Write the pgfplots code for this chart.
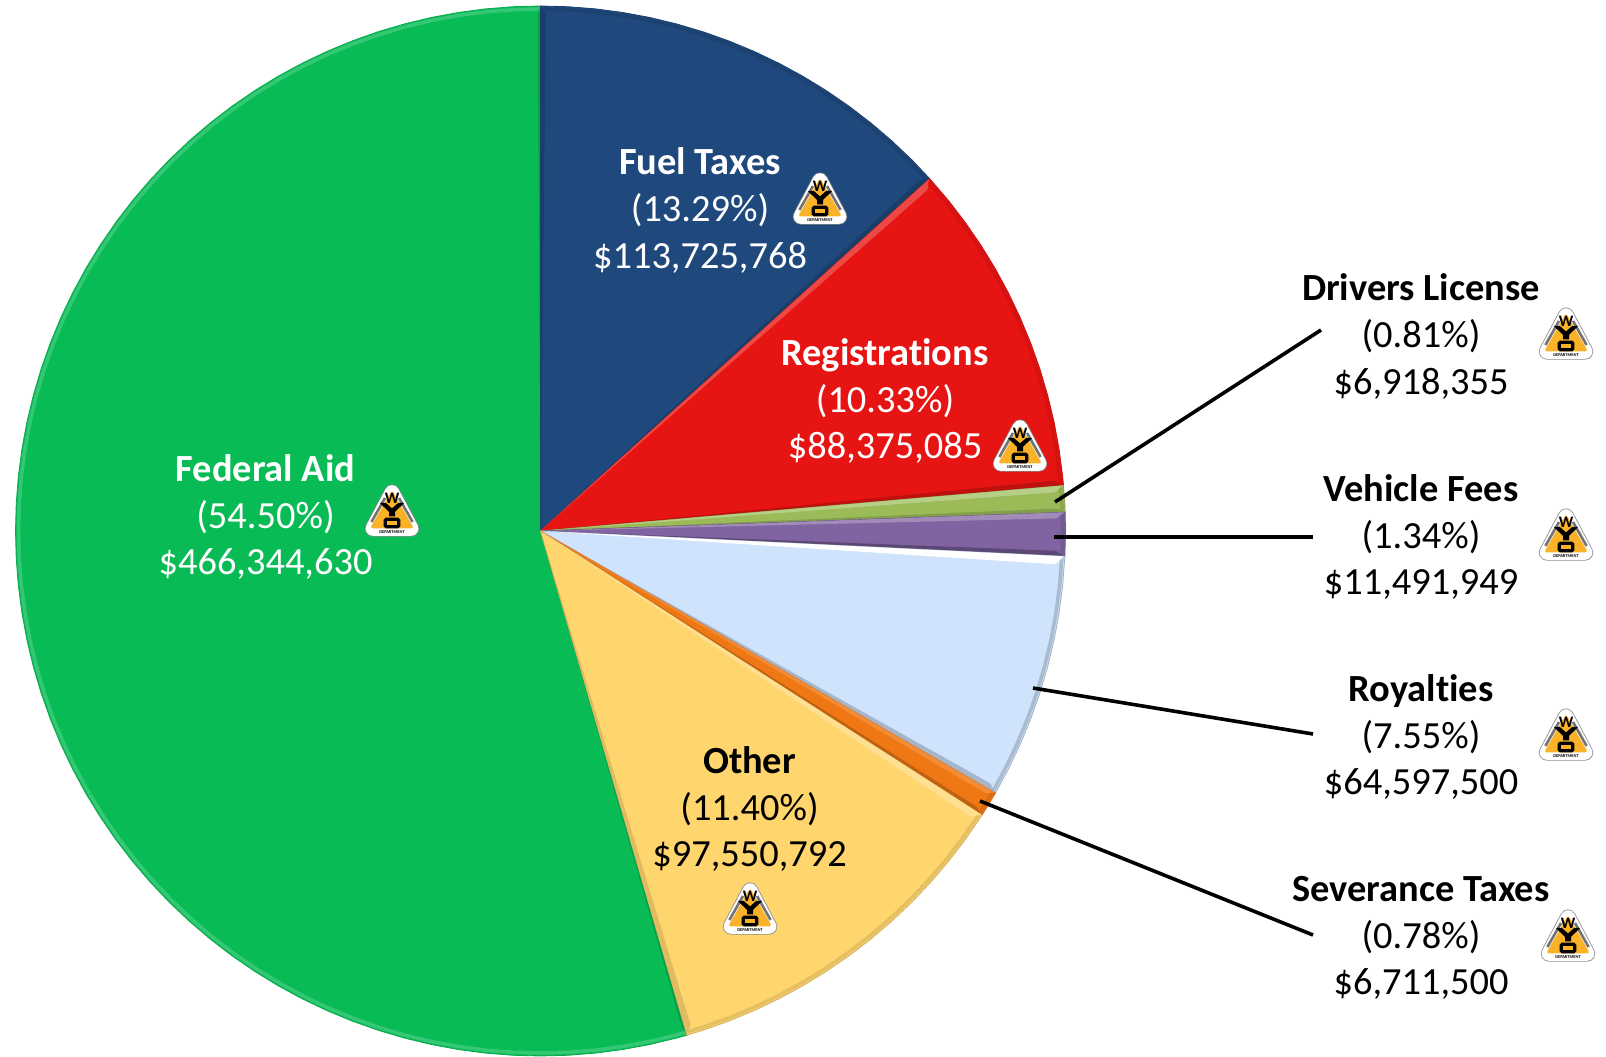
\documentclass[border=0pt]{standalone}
\usepackage{pgfplots}
\usepackage{pgfplotstable}
\usepackage{fontspec}
\setmainfont[Ligatures=NoCommon]{Carlito}
\pgfplotsset{compat=1.18}
\definecolor{cFuel}{RGB}{31,73,125}
\definecolor{cReg}{RGB}{230,20,18}
\definecolor{cDrv}{RGB}{155,187,89}
\definecolor{cVeh}{RGB}{128,100,162}
\definecolor{cRoy}{RGB}{207,227,252}
\definecolor{cSev}{RGB}{240,120,20}
\definecolor{cOth}{RGB}{255,213,110}
\definecolor{cFed}{RGB}{8,187,85}
\definecolor{cAmb}{RGB}{250,178,40}
\pgfplotstableread{
a r
90 0
90 525
87 525
84 525
81 525
78 525
75 525
72 525
69 525
66 525
63 525
60 525
57 525
54 525
51 525
48 525
45 525
42.16 525
}\tFuel
\pgfplotstableread{
a r
42.16 0
42.16 525
39 525
36 525
33 525
30 525
27 525
24 525
21 525
18 525
15 525
12 525
9 525
6 525
4.97 525
}\tReg
\pgfplotstableread{
a r
4.97 0
4.97 525
3 525
2.05 525
}\tDrv
\pgfplotstableread{
a r
2.05 0
2.05 525
0 525
-2.77 525
}\tVeh
\pgfplotstableread{
a r
-2.77 0
-2.77 525
-6 525
-9 525
-12 525
-15 525
-18 525
-21 525
-24 525
-27 525
-29.95 525
}\tRoy
\pgfplotstableread{
a r
-29.95 0
-29.95 525
-31.5 525
-32.76 525
}\tSev
\pgfplotstableread{
a r
-32.76 0
-32.76 525
-36 525
-39 525
-42 525
-45 525
-48 525
-51 525
-54 525
-57 525
-60 525
-63 525
-66 525
-69 525
-72 525
-73.8 525
}\tOth
\pgfplotstableread{
a r
-73.8 0
-73.8 525
-75 525
-78 525
-81 525
-84 525
-87 525
-90 525
-93 525
-96 525
-99 525
-102 525
-105 525
-108 525
-111 525
-114 525
-117 525
-120 525
-123 525
-126 525
-129 525
-132 525
-135 525
-138 525
-141 525
-144 525
-147 525
-150 525
-153 525
-156 525
-159 525
-162 525
-165 525
-168 525
-171 525
-174 525
-177 525
-180 525
-183 525
-186 525
-189 525
-192 525
-195 525
-198 525
-201 525
-204 525
-207 525
-210 525
-213 525
-216 525
-219 525
-222 525
-225 525
-228 525
-231 525
-234 525
-237 525
-240 525
-243 525
-246 525
-249 525
-252 525
-255 525
-258 525
-261 525
-264 525
-267 525
-270 525
}\tFed
% slice: table, fill, edge stroke, arc band colour
\newcommand{\slice}[4]{%
  \addplot[data cs=polar,fill=#2,draw=#3,line width=0.4pt,line join=round] table[x=a,y=r]{#1} --cycle;
  \addplot[data cs=polar,draw=#4,line width=1.8pt,skip coords between index={0}{1}] table[x=a,y expr=\thisrow{r}-3]{#1};
}
% wedge: angle at edge, angle inside, colour
\newcommand{\wdg}[3]{%
  \addplot[data cs=polar,fill=#3,draw=none] coordinates {(#1,0)(#1,524)(#2,516)} --cycle;
}
\newcommand{\lab}[6]{%
  \node[text=#3,align=center,inner sep=0pt,font=\fontsize{19.2}{23.3}\selectfont] at (axis cs:#1-540.5,531-#2)
    {\textbf{#4}\\#5\\#6};
}
\newcommand{\logo}[2]{%
  \pgfplotsextra{%
  \begin{scope}[shift={(axis cs:#1-540.5,531-#2)}]
    \draw[fill=white,draw=black!45,line width=8pt,line join=round] (-9.6pt,-9.3pt)--(9.6pt,-9.3pt)--(0pt,8.8pt)--cycle;
    \draw[fill=white,draw=white,line width=7.2pt,line join=round] (-9.6pt,-9.3pt)--(9.6pt,-9.3pt)--(0pt,8.8pt)--cycle;
    \draw[fill=cAmb,draw=cAmb,line width=1.6pt,line join=round] (-9.6pt,-8.4pt)--(9.6pt,-8.4pt)--(0pt,8.4pt)--cycle;
    \draw[black!55,line width=1.3pt] (-10.3pt,-6pt)--(-3.5pt,6pt);
    \draw[black!55,line width=1.3pt] (10.3pt,-6pt)--(3.5pt,6pt);
    \fill[black] (-6.2pt,3.6pt)--(-3.2pt,3.6pt)--(0pt,0.8pt)--(3.2pt,3.6pt)--(6.2pt,3.6pt)--(1.5pt,-0.9pt)--(1.5pt,-3.2pt)--(-1.5pt,-3.2pt)--(-1.5pt,-0.9pt)--cycle;
    \node[inner sep=0pt,font=\fontsize{8}{8}\selectfont\bfseries,text=black] at (0pt,5.8pt) {W};
    \draw[black,line width=1.6pt,rounded corners=0.6pt] (-3.4pt,-8.4pt) rectangle (3.4pt,-4.6pt);
    \node[inner sep=0pt,font=\fontsize{2.2}{2.2}\selectfont\bfseries,text=black] at (0pt,-10.9pt) {DEPARTMENT};
  \end{scope}}%
}
\begin{document}
\begin{tikzpicture}
\begin{axis}[hide axis,scale only axis,width=803pt,height=528pt,
  xmin=-540.5,xmax=1065.5,ymin=-525,ymax=531,clip=false]
\path (axis cs:-540.5,-525) rectangle (axis cs:1065.5,531);
% Federal Aid
\slice{\tFed}{cFed}{cFed!92!black}{cFed!82!white}
\wdg{-73.8}{-74.1}{cFed!85!black}
\wdg{-270}{-269.7}{cFed!85!black}
% Fuel Taxes
\slice{\tFuel}{cFuel}{cFuel!88!black}{cFuel!90!black}
\wdg{90}{89.4}{cFuel!85!black}
\wdg{42.16}{42.8}{cFuel!85!black}
% Registrations
\slice{\tReg}{cReg}{cReg!88!black}{cReg!92!black}
\wdg{42.16}{41.4}{cReg!78!white}
\wdg{4.97}{5.6}{cReg!82!black}
% Drivers License
\slice{\tDrv}{cDrv}{cDrv!85!black}{cDrv!90!black}
\wdg{4.97}{4.3}{cDrv!72!white}
\wdg{2.05}{2.5}{cDrv!85!black}
% Vehicle Fees
\slice{\tVeh}{cVeh}{cVeh!80!black}{cVeh!90!black}
\wdg{2.05}{1.4}{cVeh!75!white}
\wdg{-2.77}{-2.2}{cVeh!72!black}
% Royalties
\slice{\tRoy}{cRoy}{cRoy!78!black}{cRoy!82!black}
\wdg{-2.77}{-3.7}{white}
\wdg{-29.95}{-29.3}{cRoy!80!black}
% Severance Taxes
\slice{\tSev}{cSev}{cSev!88!black}{cSev!90!black}
\wdg{-29.95}{-30.5}{cSev!85!white}
\wdg{-32.76}{-32.3}{cSev!80!black}
% Other
\slice{\tOth}{cOth}{cOth!82!black}{cOth!90!black}
\wdg{-32.76}{-33.6}{cOth!75!white}
\wdg{-73.8}{-73.1}{cOth!88!black}
% leaders
\draw[black,line width=1.8pt] (axis cs:1321-540.5,531-330)--(axis cs:1055-540.5,531-502);
\draw[black,line width=1.8pt] (axis cs:1313-540.5,531-537)--(axis cs:1054-540.5,531-537);
\draw[black,line width=1.8pt] (axis cs:1313-540.5,531-734)--(axis cs:1033-540.5,531-688);
\draw[black,line width=1.8pt] (axis cs:1313-540.5,531-935)--(axis cs:980-540.5,531-801);
% labels
\lab{265.5}{517}{white}{Federal Aid}{(54.50\%)}{\$466,344,630}
\lab{700}{210.5}{white}{Fuel Taxes}{(13.29\%)}{\$113,725,768}
\lab{885}{401}{white}{Registrations}{(10.33\%)}{\$88,375,085}
\lab{749.5}{809}{black}{Other}{(11.40\%)}{\$97,550,792}
\lab{1421}{336.5}{black}{Drivers License}{(0.81\%)}{\$6,918,355}
\lab{1421}{537}{black}{Vehicle Fees}{(1.34\%)}{\$11,491,949}
\lab{1421}{737}{black}{Royalties}{(7.55\%)}{\$64,597,500}
\lab{1421}{938}{black}{Severance Taxes}{(0.78\%)}{\$6,711,500}
% logos
\logo{392}{510}
\logo{820}{198}
\logo{1020}{445}
\logo{750}{908}
\logo{1566}{333}
\logo{1566}{534}
\logo{1566}{734}
\logo{1568}{935}
\end{axis}
\end{tikzpicture}
\end{document}
